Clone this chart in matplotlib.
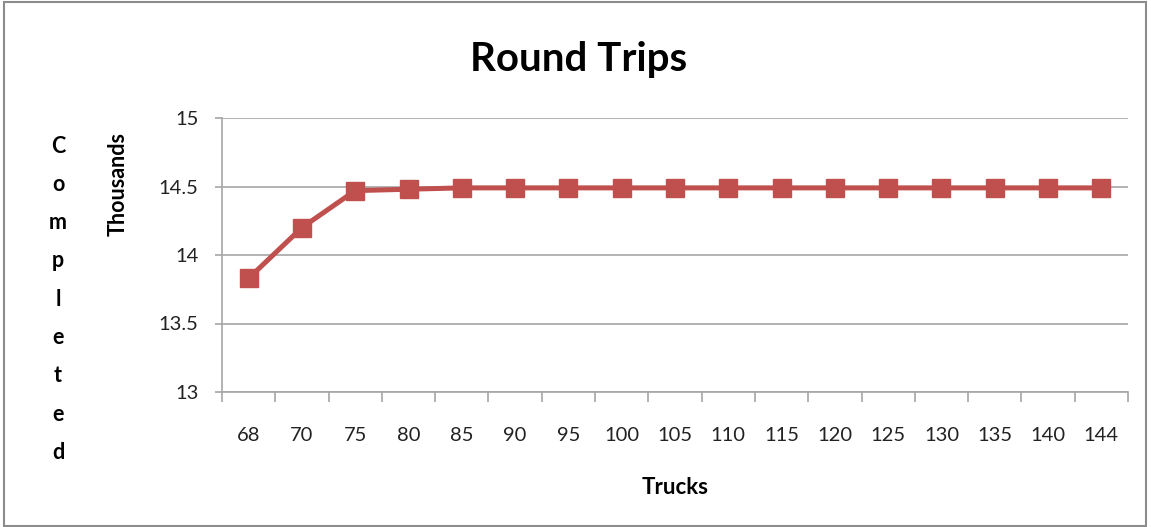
import matplotlib
matplotlib.use("Agg")
import matplotlib.pyplot as plt
from matplotlib.patches import Rectangle
import numpy as np

plt.rcParams['font.family'] = ['Lato', 'DejaVu Sans']

trucks = ["68", "70", "75", "80", "85", "90", "95", "100", "105", "110",
          "115", "120", "125", "130", "135", "140", "144"]
round_trips = [13.83, 14.20, 14.47, 14.48, 14.49, 14.49, 14.49, 14.49, 14.49,
               14.49, 14.49, 14.49, 14.49, 14.49, 14.49, 14.49, 14.49]
y_ticks = [13, 13.5, 14, 14.5, 15]
y_tick_labels = ["13", "13.5", "14", "14.5", "15"]

W, H = 1151, 527
fig = plt.figure(figsize=(W / 100, H / 100), dpi=100)
ax = fig.add_axes([222 / W, 1 - 392 / H, (1128 - 222) / W, (392 - 118) / H])

x = np.arange(len(trucks))
ax.plot(x, round_trips, color="#C0504D", linewidth=3.6, marker="s",
        markersize=13.5, markeredgecolor="#C0504D", zorder=3)

ax.set_xlim(-0.5, len(trucks) - 0.5)
ax.set_ylim(13, 15)
ax.set_yticks(y_ticks)
ax.set_yticklabels(y_tick_labels)
ax.set_xticks(x)
ax.set_xticklabels(trucks)
ax.set_xticks(np.arange(-0.5, len(trucks), 1.0), minor=True)

ax.grid(axis="y", color="#A6A6A6", linewidth=1.2)
ax.set_axisbelow(True)
for s in ["top", "right"]:
    ax.spines[s].set_visible(False)
for s in ["left", "bottom"]:
    ax.spines[s].set_color("#A6A6A6")
    ax.spines[s].set_linewidth(1.2)

ax.tick_params(axis="x", which="major", length=0, pad=25, labelsize=14.5, colors="#222222")
ax.tick_params(axis="x", which="minor", length=7, width=1.2, color="#A6A6A6")
ax.tick_params(axis="y", which="major", length=5, width=1.2, color="#A6A6A6",
               pad=12, labelsize=14.5, labelcolor="#222222")

ax.set_xlabel("Trucks", fontsize=16, fontweight="bold", labelpad=24)

fig.text(579 / W, 1 - 60 / H, "Round Trips", fontsize=29, fontweight="bold",
         ha="center", va="center")
fig.text(118 / W, 1 - 184 / H, "Thousands", fontsize=15.5, fontweight="bold",
         rotation=90, ha="center", va="center")

letters = list("Completed")
for i, ch in enumerate(letters):
    fig.text(58 / W, 1 - (146 + i * 38.3) / H, ch, fontsize=15.5, fontweight="bold",
             ha="center", va="center")

fig.patches.append(Rectangle((4 / W, 1 / H), (W - 9) / W, (H - 3) / H,
                             transform=fig.transFigure, fill=False,
                             edgecolor="#8C8C8C", linewidth=1.5))

fig.savefig("out.png", dpi=100)
